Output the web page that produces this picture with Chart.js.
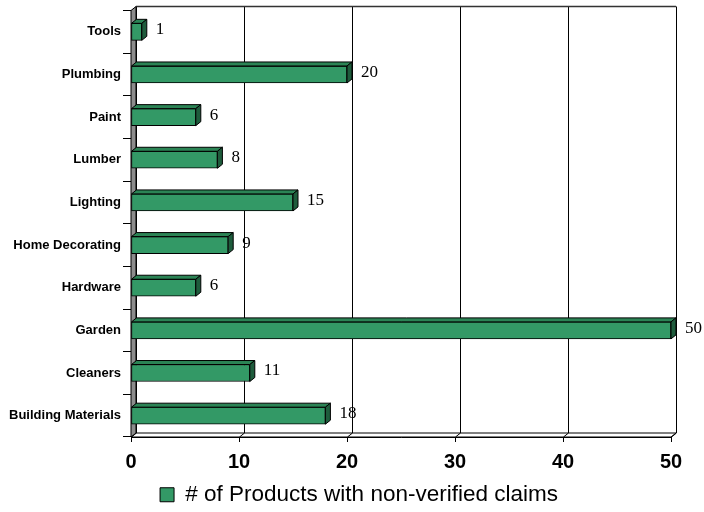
<!DOCTYPE html>
<html>
<head>
<meta charset="utf-8">
<script src="https://cdn.jsdelivr.net/npm/chart.js@4.4.1/dist/chart.umd.min.js"></script>
<style>
  html, body { margin: 0; padding: 0; background: #fff; }
  #wrap { width: 704px; height: 512px; }
</style>
</head>
<body>
<div id="wrap"><canvas id="myChart" width="704" height="512"></canvas></div>
<script>
// categories top to bottom, as in the picture
const categories = ['Tools', 'Plumbing', 'Paint', 'Lumber', 'Lighting',
    'Home Decorating', 'Hardware', 'Garden', 'Cleaners', 'Building Materials'];
const claims = [1, 20, 6, 8, 15, 9, 6, 50, 11, 18];
const xTicks = [0, 10, 20, 30, 40, 50];
const seriesName = '# of Products with non-verified claims';

const DX = 5, DY = 4;          // 3d depth
const FRONT = '#339966';
const TOP = '#2b8455';
const SIDE = '#1e5c3c';

// back wall, floor and left wall of the 3d box
const boxPlugin = {
    id: 'box3d',
    afterLayout(chart) {
        // let the long category names run past the padding without clipping
        chart.scales.y.left = 0;
    },
    beforeDatasetsDraw(chart) {
        const ctx = chart.ctx;
        const a = chart.chartArea;
        const x = chart.scales.x;
        ctx.save();
        ctx.lineWidth = 1;
        ctx.strokeStyle = '#000';

        // floor
        ctx.beginPath();
        ctx.moveTo(a.left, a.bottom);
        ctx.lineTo(a.right, a.bottom);
        ctx.lineTo(a.right + DX, a.bottom - DY);
        ctx.lineTo(a.left + DX, a.bottom - DY);
        ctx.closePath();
        ctx.fillStyle = '#fff';
        ctx.fill();
        ctx.stroke();

        // back grid lines and floor diagonals
        xTicks.forEach(v => {
            const px = Math.round(x.getPixelForValue(v)) + 0.5;
            ctx.beginPath();
            ctx.moveTo(px + DX, a.top - DY);
            ctx.lineTo(px + DX, a.bottom - DY);
            ctx.moveTo(px, a.bottom);
            ctx.lineTo(px + DX, a.bottom - DY);
            ctx.stroke();
        });

        // top edge of back wall
        ctx.beginPath();
        ctx.lineWidth = 1.5;
        ctx.strokeStyle = '#333';
        ctx.moveTo(a.left + DX, a.top - DY);
        ctx.lineTo(a.right + DX, a.top - DY);
        ctx.stroke();

        // left wall
        ctx.lineWidth = 1;
        ctx.strokeStyle = '#000';
        ctx.beginPath();
        ctx.moveTo(a.left, a.top);
        ctx.lineTo(a.left + DX, a.top - DY);
        ctx.lineTo(a.left + DX, a.bottom - DY);
        ctx.lineTo(a.left, a.bottom);
        ctx.closePath();
        ctx.fillStyle = '#8c8c8c';
        ctx.fill();
        ctx.stroke();
        ctx.restore();
    },
    afterDatasetsDraw(chart) {
        const ctx = chart.ctx;
        const meta = chart.getDatasetMeta(0);
        ctx.save();
        ctx.lineWidth = 1;
        ctx.strokeStyle = '#000';
        meta.data.forEach((bar, i) => {
            const p = bar.getProps(['x', 'y', 'base', 'height'], true);
            const t = p.y - p.height / 2, b = p.y + p.height / 2;
            // top face
            ctx.beginPath();
            ctx.moveTo(p.base, t);
            ctx.lineTo(p.base + DX, t - DY);
            ctx.lineTo(p.x + DX, t - DY);
            ctx.lineTo(p.x, t);
            ctx.closePath();
            ctx.fillStyle = TOP;
            ctx.fill();
            ctx.stroke();
            // side face
            ctx.beginPath();
            ctx.moveTo(p.x, t);
            ctx.lineTo(p.x + DX, t - DY);
            ctx.lineTo(p.x + DX, b - DY);
            ctx.lineTo(p.x, b);
            ctx.closePath();
            ctx.fillStyle = SIDE;
            ctx.fill();
            ctx.stroke();
            // value label
            ctx.fillStyle = '#000';
            ctx.font = '17px "Liberation Serif", "Times New Roman", serif';
            ctx.textAlign = 'left';
            ctx.textBaseline = 'middle';
            ctx.fillText(String(claims[i]), p.x + DX + 9, p.y - 2);
        });
        ctx.restore();
    }
};

const data = {
    labels: categories,
    datasets: [{
        label: seriesName,
        data: claims,
        backgroundColor: FRONT,
        borderColor: '#000',
        borderWidth: 1,
        borderSkipped: false,
        barThickness: 17
    }]
};

const config = {
    type: 'bar',
    data: data,
    options: {
        indexAxis: 'y',
        responsive: false,
        animation: false,
        devicePixelRatio: 1,
        layout: {
            padding: { left: 47, right: 33, top: 10.5, bottom: -4 }
        },
        scales: {
            x: {
                type: 'linear',
                min: 0,
                max: 50,
                afterBuildTicks(scale) {
                    scale.ticks = xTicks.map(v => ({ value: v }));
                },
                afterFit(scale) {
                    scale.height = 40.5;
                },
                grid: {
                    drawOnChartArea: false,
                    drawTicks: true,
                    tickLength: 5,
                    color: '#000'
                },
                border: { display: true, color: '#000', width: 1 },
                ticks: {
                    padding: 8,
                    color: '#000',
                    font: { family: '"Liberation Sans", Arial, sans-serif', size: 20, weight: 'bold' }
                }
            },
            y: {
                afterFit(scale) {
                    scale.width = 131 - 47;
                },
                grid: {
                    offset: true,
                    drawOnChartArea: false,
                    drawTicks: true,
                    tickLength: 8,
                    color: '#000'
                },
                border: { display: false },
                ticks: {
                    padding: 2,
                    color: '#000',
                    font: { family: '"Liberation Sans", Arial, sans-serif', size: 13, weight: 'bold' }
                }
            }
        },
        plugins: {
            legend: {
                position: 'bottom',
                labels: {
                    boxWidth: 14,
                    boxHeight: 14,
                    padding: 6,
                    color: '#000',
                    font: { family: '"Liberation Sans", Arial, sans-serif', size: 22.5 }
                }
            },
            tooltip: { enabled: false }
        }
    },
    plugins: [boxPlugin]
};

let myChart = new Chart(document.getElementById('myChart'), config);
</script>
</body>
</html>
